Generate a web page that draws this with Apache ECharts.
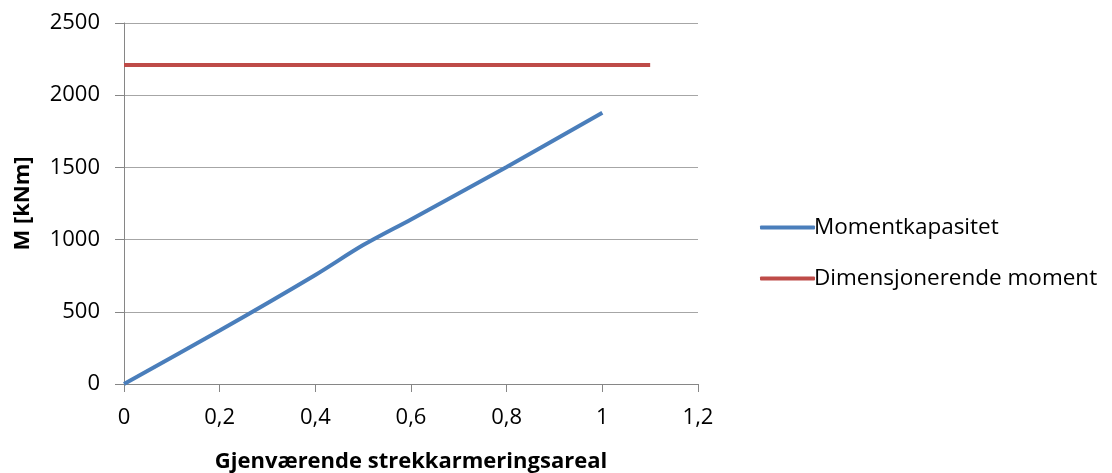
<!DOCTYPE html>
<html><head><meta charset="utf-8">
<script src="https://cdn.jsdelivr.net/npm/echarts@6/dist/echarts.min.js"></script>
<style>html,body{margin:0;padding:0;background:#fff}#c{width:1112px;height:473px}</style>
</head><body><div id="c"></div>
<script>
const kapX = [0, 0.2, 0.4, 0.5, 0.6, 0.8, 1.0];
const kapY = [0, 370, 755, 962, 1140, 1503, 1879];
const dimX = [0, 1.1];
const dimY = [2209, 2209];
const seriesNames = ['Momentkapasitet', 'Dimensjonerende moment'];
const xTitle = 'Gjenværende strekkarmeringsareal';
const yTitle = 'M [kNm]';

const font = 'Open Sans';
const chart = echarts.init(document.getElementById('c'));
chart.setOption({
  animation: false,
  backgroundColor: '#fff',
  grid: {left: 124, right: 414, top: 23, bottom: 89, containLabel: false, outerBoundsMode: 'none'},
  legend: {
    orient: 'vertical', left: 755, top: 211, itemGap: 28,
    itemWidth: 55, itemHeight: 4, icon: 'roundRect',
    textStyle: {fontFamily: font, fontSize: 22.5, color: '#000', padding: [0,0,0,-6]},
    data: seriesNames
  },
  xAxis: {
    type: 'value', min: 0, max: 1.2, interval: 0.2,
    name: xTitle, nameLocation: 'middle', nameGap: 67,
    nameTextStyle: {fontFamily: font, fontSize: 22, fontWeight: 'bold', color: '#000'},
    axisLine: {show: true, lineStyle: {color: '#868686', width: 1}},
    axisTick: {show: true, length: 8, lineStyle: {color: '#868686'}},
    axisLabel: {fontFamily: font, fontSize: 22, color: '#000', margin: 23,
      formatter: v => String(+v.toFixed(1)).replace('.', ',')},
    splitLine: {show: false}
  },
  yAxis: {
    type: 'value', min: 0, max: 2500, interval: 500,
    name: yTitle, nameLocation: 'middle', nameGap: 90,
    nameTextStyle: {fontFamily: font, fontSize: 22, fontWeight: 'bold', color: '#000'},
    axisLine: {show: true, lineStyle: {color: '#868686', width: 1}},
    axisTick: {show: true, length: 9, lineStyle: {color: '#868686'}},
    axisLabel: {fontFamily: font, fontSize: 22, color: '#000', margin: 24,
      formatter: v => String(v)},
    splitLine: {show: true, lineStyle: {color: '#a6a6a6', width: 1}}
  },
  series: [
    {name: seriesNames[0], type: 'line', smooth: 0.3, symbol: 'none',
     data: kapX.map((x, i) => [x, kapY[i]]),
     itemStyle: {color: '#4a7ebb'}, lineStyle: {color: '#4a7ebb', width: 4}},
    {name: seriesNames[1], type: 'line', symbol: 'none',
     data: dimX.map((x, i) => [x, dimY[i]]),
     itemStyle: {color: '#be4b48'}, lineStyle: {color: '#be4b48', width: 4}}
  ]
});
</script></body></html>
